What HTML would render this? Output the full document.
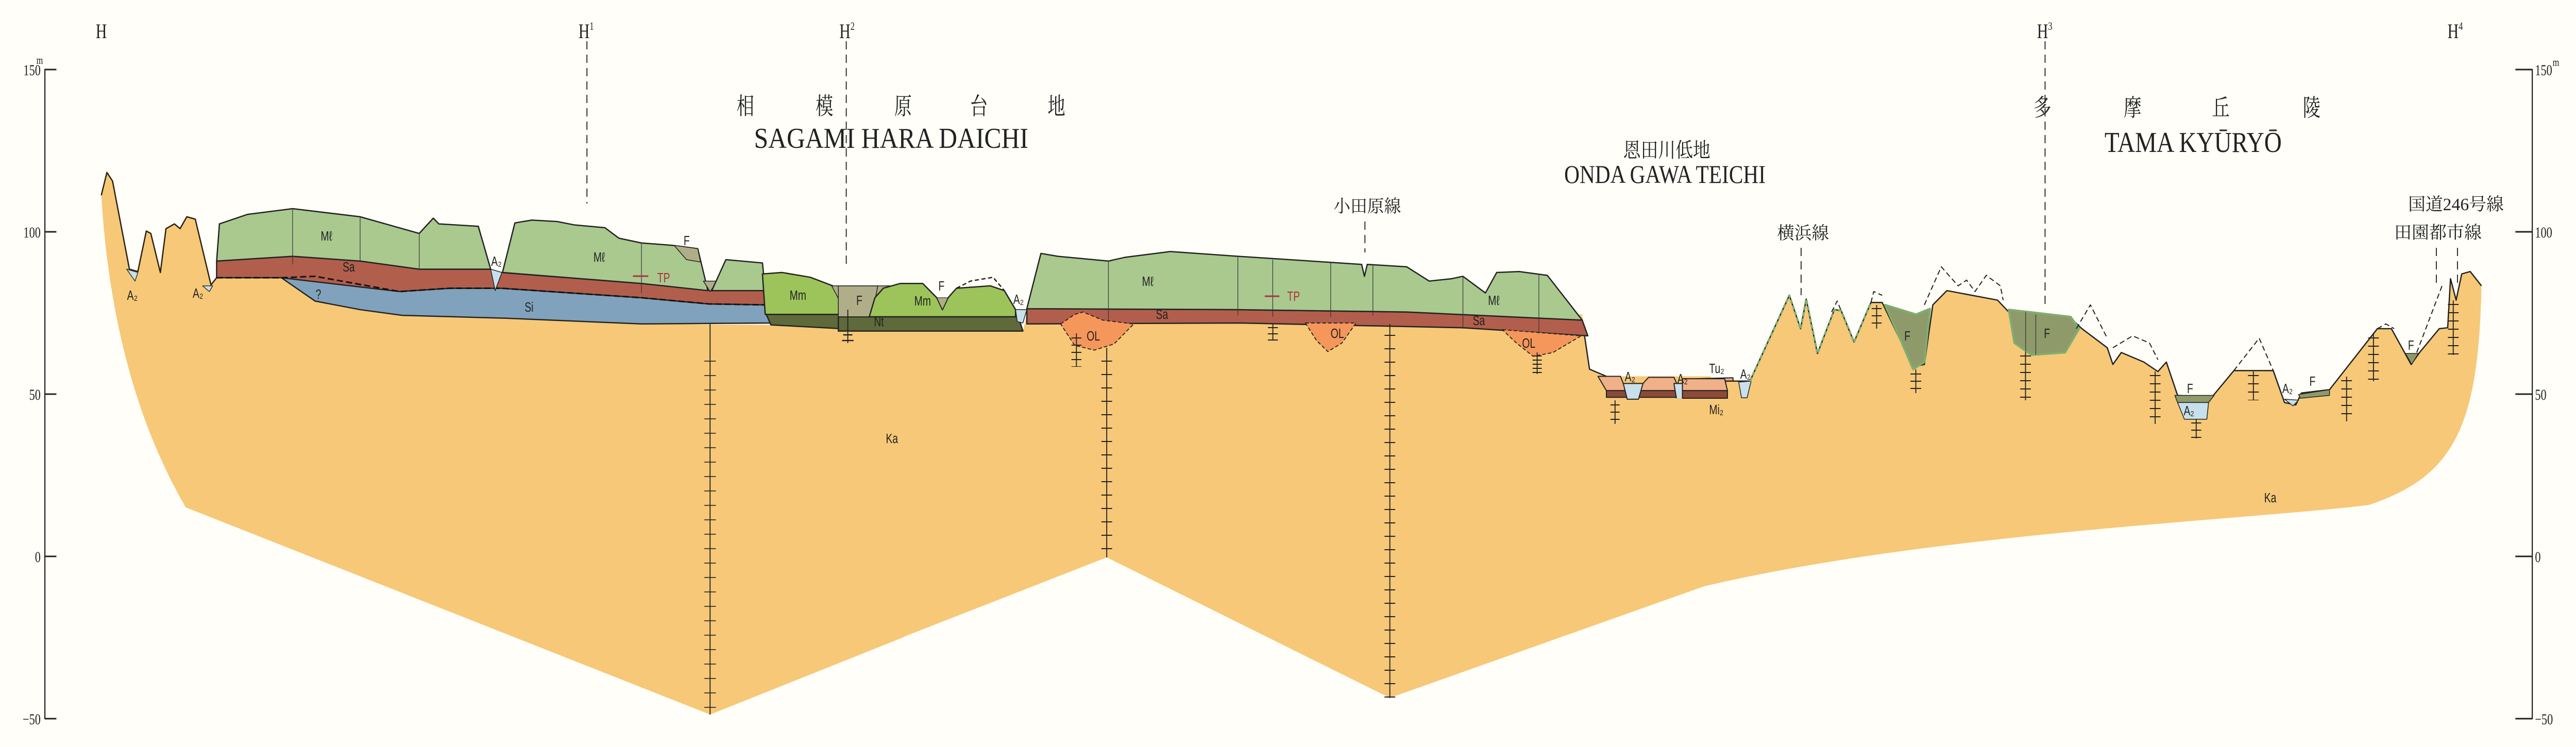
<!DOCTYPE html>
<html><head><meta charset="utf-8"><style>
html,body{margin:0;padding:0;background:#fffef8;width:100%;height:100%;overflow:hidden;}
svg{display:block;width:100%;height:100%}
.ol{vector-effect:non-scaling-stroke}
.lb{font-family:"Liberation Sans",sans-serif;font-size:26px;fill:#222;text-anchor:middle}
.tt{font-family:"Liberation Serif","Noto Serif CJK SC",serif;fill:#222;text-anchor:middle}
.cj{font-family:"Liberation Serif","Noto Serif CJK JP",serif;fill:#222;text-anchor:middle}
.ax{font-family:"Liberation Serif",serif;font-size:30px;fill:#222}
</style></head><body>
<svg width="100%" height="100%" viewBox="0 0 6715 1450" preserveAspectRatio="none" xmlns="http://www.w3.org/2000/svg">
<rect width="6715" height="1450" fill="#fffef8"/>
<g fill="none" stroke-linejoin="round">
<!-- GROUP 1 -->
<g transform="translate(0,0) scale(1.4668,0.9247)">
<path d="M180,410 L190,362 L200,380 L230,565 L245,570 L260,485 L268,490 L285,572 L295,480 L310,470 L320,480 L332,455 L347,460 L375,598 L385,583 L500,583 L560,632 L640,650 L715,662 L900,668 L1140,680 L1370,682 L1605,697 L1605,1338 L1262,1500 L330,1065 Q200,800 180,410 Z" fill="#f6c877"/>
<path class="ol" d="M180,410 L190,362 L200,380 L230,565 L245,570 L260,485 L268,490 L285,572 L295,480 L310,470 L320,480 L332,455 L347,460 L375,598 L385,583" stroke="#2a2010" stroke-width="2.5"/>
<path class="ol" d="M225,565 L245,572 L240,590 Z M360,600 L378,600 L372,612 Z" fill="#c8e0ec" stroke="#333" stroke-width="1.5"/>
<path class="ol" d="M500,583 L640,588 L710,612 L800,605 L890,605 L1140,625 L1260,638 L1365,640 L1370,678 L1140,680 L900,668 L715,662 L640,650 L560,632 Z" fill="#80a2bc" stroke="#222" stroke-width="2.5"/>
<path class="ol" d="M385,548 L520,538 L640,548 L745,565 L870,565 L890,572 L1140,595 L1260,610 L1360,610 L1360,640 L1260,638 L1140,625 L890,605 L800,605 L710,612 L500,583 L385,583 Z" fill="#b25e4c" stroke="#222" stroke-width="2.5"/>
<path class="ol" d="M385,583 L500,583 L560,580 L710,612 L800,605 L890,605 L1140,625 L1260,638 L1360,640" stroke="#111" stroke-width="3" stroke-dasharray="12 6"/>
<path class="ol" d="M390,470 L440,450 L520,438 L640,455 L745,490 L770,458 L780,470 L850,475 L872,565 L745,565 L640,548 L520,538 L385,548 Z" fill="#a9c98f" stroke="#222" stroke-width="2.5"/>
<path class="ol" d="M872,565 L892,572 L880,610 Z" fill="#c8e0ec" stroke="#222" stroke-width="1.5"/>
<path class="ol" d="M893,572 L915,468 L945,462 L990,465 L1020,472 L1075,478 L1100,500 L1140,510 L1195,515 L1240,522 L1258,610 L1140,595 Z" fill="#a9c98f" stroke="#222" stroke-width="2.5"/>
<path class="ol" d="M1198,515 L1240,522 L1245,550 L1220,545 Z M1250,590 L1275,590 L1262,612 Z" fill="#b0ae88" stroke="#222" stroke-width="1.5"/>
<path class="ol" d="M1265,610 L1290,545 L1355,552 L1360,610 Z" fill="#a9c98f" stroke="#222" stroke-width="2.5"/>
<path class="ol" d="M1360,655 L1605,655 L1605,697 L1370,682 Z" fill="#5e6a3a" stroke="#222" stroke-width="2.5"/>
<path class="ol" d="M1355,575 L1390,572 L1440,582 L1480,600 L1520,615 L1515,660 L1360,660 Z" fill="#9cc45a" stroke="#222" stroke-width="2.5"/>
<path class="ol" d="M1478,600 L1605,600 L1605,640 L1560,660 L1505,660 Z" fill="#b0ae88" stroke="#222" stroke-width="1.5"/>
<path class="ol" d="M520,438 L520,555 M640,455 L640,548 M745,490 L745,565 M1140,510 L1140,615" stroke="#333" stroke-width="1.2"/>
</g>
<!-- GROUP 2 -->
<g transform="translate(2200,0) scale(1.4668,0.9247)">
<path d="M30,695 L318,695 L325,660 L1312,660 L1325,775 L1355,790 L1540,790 L1540,1226 L970,1465 L467,1170 L30,1372 Z" fill="#f6c877"/>
<path class="ol" d="M1312,672 L1325,775 L1355,790" stroke="#222" stroke-width="2.5"/>
<path class="ol" d="M-10,665 L310,665 L318,695 L-10,695 Z" fill="#5e6a3a" stroke="#222" stroke-width="2.5"/>
<path class="ol" d="M-10,600 L60,600 L50,665 L-10,665 Z" fill="#b0ae88" stroke="#222" stroke-width="1.5"/>
<path class="ol" d="M45,665 L55,625 L70,605 L100,595 L140,595 L165,625 L175,650 L185,625 L200,605 L260,600 L285,610 L305,650 L305,665 Z" fill="#9cc45a" stroke="#222" stroke-width="2.5"/>
<path class="ol" d="M165,625 L185,625 L175,650 Z" fill="#b0ae88" stroke="#222" stroke-width="1.2"/>
<path class="ol" d="M200,605 L225,590 L265,582 L285,610" stroke="#222" stroke-width="2.5" stroke-dasharray="8 5"/>
<path class="ol" d="M305,650 L325,650 L318,678 L308,675 Z" fill="#c8e0ec" stroke="#222" stroke-width="1.5"/>
<path class="ol" d="M325,648 L700,650 L1000,655 L1312,672 L1322,705 L1100,688 L700,678 L325,680 Z" fill="#b25e4c" stroke="#222" stroke-width="2.5"/>
<path class="ol" d="M325,648 L350,532 L380,538 L470,548 L500,540 L580,528 L700,538 L920,555 L925,580 L930,555 L1000,560 L1040,590 L1080,585 L1100,580 L1140,615 L1160,572 L1200,570 L1250,578 L1312,672 L1000,655 L700,650 Z" fill="#a9c98f" stroke="#222" stroke-width="2.5"/>
<path class="ol" d="M385,680 L410,660 L425,655 L460,672 L515,680 L480,722 L445,735 L410,725 Z M820,678 L910,678 L885,720 L860,738 L840,715 Z M1170,692 L1310,705 L1260,740 L1225,748 L1195,720 Z" fill="#f5965a" stroke="#222" stroke-width="1.8" stroke-dasharray="7 4"/>
<path class="ol" d="M470,548 L470,672 M700,538 L700,662 M762,545 L762,665 M865,552 L865,665 M940,556 L940,662 M1100,580 L1100,690 M1235,575 L1235,700" stroke="#333" stroke-width="1.2"/>
<path class="ol" d="M1340,790 L1380,790 L1385,805 L1420,805 L1430,792 L1475,792 L1480,805 L1505,805 L1515,795 L1580,793 L1580,820 L1355,820 Z" fill="#f0b088" stroke="#222" stroke-width="2"/>
<path class="ol" d="M1355,820 L1580,820 L1580,834 L1355,834 Z" fill="#8e4a38" stroke="#222" stroke-width="2"/>
<path class="ol" d="M1385,805 L1420,805 L1412,838 L1392,838 Z M1475,805 L1507,805 L1500,840 L1480,840 Z" fill="#c8e0ec" stroke="#222" stroke-width="2"/>
</g>
<!-- GROUP 3 -->
<g transform="translate(4415,0) scale(1.4668,0.9247)">
<path d="M-60,836 L55,836 L60,800 L100,800 L170,620 L190,690 L200,628 L220,742 L250,650 L262,652 L285,718 L315,635 L335,635 L390,770 L410,765 L425,640 L450,610 L540,630 L560,655 L670,668 L690,690 L735,730 L745,765 L760,740 L800,760 L825,780 L840,760 L860,830 L920,835 L960,778 L1030,778 L1050,845 L1070,850 L1080,825 L1130,818 L1215,690 L1240,690 L1275,765 L1290,740 L1325,690 L1340,688 L1345,585 L1355,630 L1365,575 L1380,570 L1400,600 C1395,900 1350,1000 1200,1060 C1000,1090 400,1120 0,1236 L-60,1261 Z" fill="#f6c877"/>
<path class="ol" d="M55,800 L100,800 L170,620 L190,690 L200,628 L220,742 L250,650 L262,652 L285,718 L315,635 L335,635 L390,770 L410,765 L425,640 L450,610 L540,630 L560,655 L670,668 L690,690 L735,730 L745,765 L760,740 L800,760 L825,780 L840,760 L860,830 L920,835 L960,778 L1030,778 L1050,845 L1070,850 L1080,825 L1130,818 L1215,690 L1240,690 L1275,765 L1290,740 L1325,690 L1340,688 L1345,585 L1355,630 L1365,575 L1380,570 L1400,600" stroke="#222" stroke-width="2.5"/>
<path class="ol" d="M-20,795 L55,795 L60,820 L-20,820 Z" fill="#f0b088" stroke="#222" stroke-width="2"/>
<path class="ol" d="M-20,820 L60,820 L60,836 L-20,836 Z" fill="#8e4a38" stroke="#222" stroke-width="2"/>
<path class="ol" d="M80,802 L102,800 L95,835 L85,835 Z" fill="#c8e0ec" stroke="#222" stroke-width="1.5"/>
<path class="ol" d="M100,800 L170,620 L190,690 L200,628 L220,742 L250,650 L262,652 L285,718 L315,635" stroke="#7fae70" stroke-width="4" stroke-dasharray="8 4"/>
<path class="ol" d="M340,640 L395,660 L420,648 L410,760 L390,775 L370,720 Z" fill="#8e9a6a" stroke="#7fae70" stroke-width="4"/>
<path class="ol" d="M560,650 L670,665 L685,690 L660,740 L600,745 L570,720 Z" fill="#8e9a6a" stroke="#7fae70" stroke-width="4"/>
<path class="ol" d="M1265,742 L1288,742 L1276,765 Z" fill="#8e9a6a" stroke="#222" stroke-width="1.5"/>
<path class="ol" d="M855,830 L925,830 L915,845 L860,845 Z" fill="#8e9a6a" stroke="#222" stroke-width="1.5"/>
<path class="ol" d="M860,845 L915,845 L912,880 L872,880 Z" fill="#c8e0ec" stroke="#222" stroke-width="1.5"/>
<path class="ol" d="M1050,838 L1075,840 L1065,852 Z" fill="#c8e0ec" stroke="#222" stroke-width="1.5"/>
<path class="ol" d="M1075,828 L1130,818 L1130,830 L1078,836 Z" fill="#8e9a6a" stroke="#222" stroke-width="1.5"/>
<path class="ol" d="M410,640 L440,560 L470,600 L485,588 L500,612 L520,578 L545,600 L550,630 M315,635 L320,612 L335,620 M245,655 L255,632 L262,652 M680,690 L705,640 L735,710 M745,730 L780,705 L810,720 L825,755 M960,778 L1005,710 L1030,778 M1215,690 L1230,680 L1245,690 M1285,740 L1330,600" stroke="#222" stroke-width="2" stroke-dasharray="10 6"/>
<path class="ol" d="M590,655 L590,745 M608,660 L608,745" stroke="#333" stroke-width="1.2"/>
</g>
</g>
<g stroke="#222" stroke-width="2.5">
<line x1="1851" y1="629" x2="1851" y2="1387"/>
<line x1="1851" y1="700" x2="1851" y2="1387" stroke-width="30" stroke-dasharray="2 26" stroke-opacity="0.8"/>
<line x1="2210" y1="601" x2="2210" y2="666"/><line x1="2195" y1="661" x2="2225" y2="661"/><line x1="2198" y1="650" x2="2222" y2="650"/>
<line x1="2885" y1="675" x2="2885" y2="1082"/><line x1="2885" y1="700" x2="2885" y2="1082" stroke-width="28" stroke-dasharray="2 24"/>
<line x1="3623" y1="629" x2="3623" y2="1355"/><line x1="3623" y1="650" x2="3623" y2="1355" stroke-width="28" stroke-dasharray="2 24"/>
<line x1="2806" y1="647" x2="2806" y2="712"/><line x1="2806" y1="655" x2="2806" y2="712" stroke-width="26" stroke-dasharray="2 12"/>
<line x1="3318" y1="629" x2="3318" y2="661"/><line x1="3318" y1="635" x2="3318" y2="661" stroke-width="26" stroke-dasharray="2 10"/>
<line x1="4007" y1="684" x2="4007" y2="726"/><line x1="4007" y1="690" x2="4007" y2="726" stroke-width="24" stroke-dasharray="2 6"/>
<line x1="4210" y1="777" x2="4210" y2="823"/><line x1="4210" y1="785" x2="4210" y2="823" stroke-width="24" stroke-dasharray="2 12"/>
<line x1="4994" y1="717" x2="4994" y2="763"/><line x1="4994" y1="725" x2="4994" y2="763" stroke-width="28" stroke-dasharray="2 12"/>
<line x1="5280" y1="684" x2="5280" y2="777"/><line x1="5280" y1="690" x2="5280" y2="777" stroke-width="28" stroke-dasharray="2 14"/>
<line x1="5618" y1="721" x2="5618" y2="823"/><line x1="5618" y1="728" x2="5618" y2="823" stroke-width="28" stroke-dasharray="2 14"/>
<line x1="5725" y1="814" x2="5725" y2="851"/><line x1="5725" y1="820" x2="5725" y2="851" stroke-width="26" stroke-dasharray="2 12"/>
<line x1="5874" y1="721" x2="5874" y2="777"/><line x1="5874" y1="728" x2="5874" y2="777" stroke-width="28" stroke-dasharray="2 14"/>
<line x1="6117" y1="731" x2="6117" y2="818"/><line x1="6117" y1="738" x2="6117" y2="818" stroke-width="28" stroke-dasharray="2 14"/>
<line x1="6187" y1="647" x2="6187" y2="740"/><line x1="6187" y1="655" x2="6187" y2="740" stroke-width="28" stroke-dasharray="2 14"/>
<line x1="6395" y1="583" x2="6395" y2="689"/><line x1="6395" y1="590" x2="6395" y2="689" stroke-width="28" stroke-dasharray="2 14"/>
<line x1="4892" y1="592" x2="4892" y2="638"/><line x1="4892" y1="598" x2="4892" y2="638" stroke-width="26" stroke-dasharray="2 12"/>
</g>
<g stroke="#b03040" stroke-width="3"><line x1="1650" y1="536" x2="1690" y2="536"/><line x1="3297" y1="575" x2="3335" y2="575"/></g>
<g stroke="#222" stroke-width="2.5" stroke-dasharray="16 10">
<line x1="1530" y1="80" x2="1530" y2="395"/><line x1="2206" y1="80" x2="2206" y2="520"/><line x1="5331" y1="80" x2="5331" y2="590"/>
<line x1="3558" y1="430" x2="3558" y2="490"/><line x1="4695" y1="481" x2="4695" y2="573"/><line x1="6351" y1="481" x2="6351" y2="555"/><line x1="6406" y1="481" x2="6406" y2="555"/>
</g>
<g stroke="#222" stroke-width="3">
<line x1="117" y1="134" x2="117" y2="1396"/>
<line x1="117" y1="135" x2="147" y2="135"/><line x1="117" y1="450" x2="147" y2="450"/><line x1="117" y1="765" x2="147" y2="765"/><line x1="117" y1="1080" x2="147" y2="1080"/><line x1="117" y1="1395" x2="147" y2="1395"/>
<line x1="6601" y1="134" x2="6601" y2="1396"/>
<line x1="6557" y1="135" x2="6601" y2="135"/><line x1="6557" y1="450" x2="6601" y2="450"/><line x1="6557" y1="765" x2="6601" y2="765"/><line x1="6557" y1="1080" x2="6601" y2="1080"/><line x1="6557" y1="1395" x2="6601" y2="1395"/>
</g>
<g class="ax">
<text x="106" y="146" text-anchor="end">150</text><text x="112" y="124" font-size="22" text-anchor="end">m</text>
<text x="106" y="461" text-anchor="end">100</text><text x="106" y="776" text-anchor="end">50</text><text x="106" y="1091" text-anchor="end">0</text><text x="106" y="1406" text-anchor="end">−50</text>
<text x="6608" y="146">150</text><text x="6654" y="128" font-size="22">m</text>
<text x="6608" y="461">100</text><text x="6608" y="776">50</text><text x="6608" y="1091">0</text><text x="6608" y="1406">−50</text>
</g>
<g class="tt" font-size="40">
<text x="264" y="74">H</text><text x="1528" y="74">H<tspan font-size="22" dy="-16">1</tspan></text>
<text x="2208" y="74">H<tspan font-size="22" dy="-16">2</tspan></text><text x="5330" y="74">H<tspan font-size="22" dy="-16">3</tspan></text>
<text x="6400" y="74">H<tspan font-size="22" dy="-16">4</tspan></text>
</g>
<g class="cj" font-size="46">
<text x="1943" y="222">相</text><text x="2149" y="222">模</text><text x="2354" y="222">原</text><text x="2552" y="222">台</text><text x="2754" y="222">地</text>
<text x="5324" y="225">多</text><text x="5559" y="225">摩</text><text x="5789" y="225">丘</text><text x="6026" y="225">陵</text>
</g>
<text class="tt" x="2323" y="287" font-size="56" textLength="715" lengthAdjust="spacingAndGlyphs">SAGAMI HARA DAICHI</text>
<text class="tt" x="5717" y="295" font-size="56" textLength="462" lengthAdjust="spacingAndGlyphs">TAMA KYŪRYŌ</text>
<text class="cj" x="4345" y="305" font-size="40" textLength="227" lengthAdjust="spacingAndGlyphs">恩田川低地</text>
<text class="tt" x="4340" y="355" font-size="50" textLength="525" lengthAdjust="spacingAndGlyphs">ONDA GAWA TEICHI</text>
<g class="cj" font-size="34">
<text x="3564" y="412" textLength="176" lengthAdjust="spacingAndGlyphs">小田原線</text>
<text x="4700" y="464" textLength="135" lengthAdjust="spacingAndGlyphs">横浜線</text>
<text x="6402" y="408" textLength="249" lengthAdjust="spacingAndGlyphs">国道246号線</text>
<text x="6355" y="463" textLength="228" lengthAdjust="spacingAndGlyphs">田園都市線</text>
</g>
<g class="lb">
<text x="851" y="467">Mℓ</text><text x="1562" y="508">Mℓ</text><text x="909" y="527">Sa</text><text x="1379" y="605">Si</text>
<text x="1730" y="548" fill="#b03040">TP</text><text x="3372" y="584" fill="#b03040">TP</text>
<text x="345" y="582">A₂</text><text x="516" y="578">A₂</text><text x="1294" y="516">A₂</text><text x="1790" y="476">F</text>
<text x="2080" y="582">Mm</text><text x="2240" y="592">F</text><text x="2291" y="633">Nt</text><text x="2405" y="593">Mm</text><text x="2454" y="564">F</text><text x="2655" y="590">A₂</text>
<text x="2992" y="555">Mℓ</text><text x="3029" y="619">Sa</text><text x="2850" y="661">OL</text><text x="3486" y="656">OL</text>
<text x="3894" y="592">Mℓ</text><text x="3855" y="631">Sa</text><text x="3985" y="675">OL</text><text x="2325" y="860">Ka</text>
<text x="4249" y="740">A₂</text><text x="4386" y="744">A₂</text><text x="4475" y="724">Tu₂</text><text x="4474" y="804">Mi₂</text>
<text x="4550" y="735">A₂</text><text x="4972" y="661">F</text><text x="5336" y="656">F</text><text x="5709" y="763">F</text><text x="5706" y="806">A₂</text>
<text x="5963" y="763">A₂</text><text x="6028" y="749">F</text><text x="6285" y="679">F</text><text x="5918" y="975">Ka</text>
<text x="830" y="580">?</text>
</g>
</svg>
</body></html>
